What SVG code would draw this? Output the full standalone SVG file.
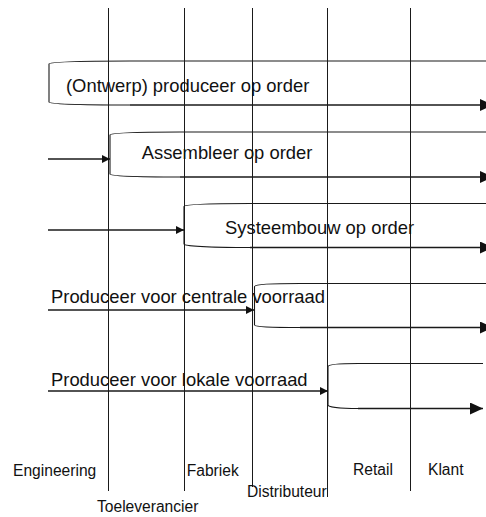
<svg xmlns="http://www.w3.org/2000/svg" width="486" height="517" viewBox="0 0 486 517">
  <style>
    .lane { stroke: #1a1a1a; stroke-width: 1; fill: none; }
    .bracket { stroke: #1a1a1a; stroke-width: 1.1; fill: none; }
    .flow { stroke: #1a1a1a; stroke-width: 1.3; fill: none; }
    .band { font-family: "Liberation Sans", Arial, sans-serif; font-size: 18.4px; fill: #111; }
    .lbl { font-family: "Liberation Sans", Arial, sans-serif; font-size: 15.6px; fill: #111; }
  </style>
  <defs>
    <marker id="bigHead" markerUnits="userSpaceOnUse" markerWidth="14" markerHeight="12" refX="13" refY="6" orient="auto">
      <path d="M0,0 L13,6 L0,12 Z" fill="#111"/>
    </marker>
    <marker id="smallHead" markerUnits="userSpaceOnUse" markerWidth="9" markerHeight="8" refX="8" refY="4" orient="auto">
      <path d="M0,0 L8,4 L0,8 Z" fill="#111"/>
    </marker>
  </defs>
  <rect width="486" height="517" fill="#fff"/>

  <!-- swimlane dividers -->
  <g id="lanes">
    <line class="lane" x1="108.5" y1="8" x2="108.5" y2="491"/>
    <line class="lane" x1="184.5" y1="8" x2="184.5" y2="491"/>
    <line class="lane" x1="252.5" y1="8" x2="252.5" y2="487"/>
    <line class="lane" x1="327.5" y1="8" x2="327.5" y2="497"/>
    <line class="lane" x1="410.5" y1="8" x2="410.5" y2="491"/>
  </g>

  <!-- lane labels -->
  <g id="lane-labels">
    <text class="lbl" x="13" y="476">Engineering</text>
    <text class="lbl" x="97" y="512">Toeleverancier</text>
    <text class="lbl" x="186.7" y="476">Fabriek</text>
    <text class="lbl" x="247" y="497">Distributeur</text>
    <text class="lbl" x="353" y="475">Retail</text>
    <text class="lbl" x="428" y="475">Klant</text>
  </g>

  <!-- order strategies: bracket, outgoing flow and caption -->
  <g id="band-ontwerp">
    <path class="bracket" d="M486,61 L130,61 C80,61 49,62 49,64 L49,102 C49,104 80,105 130,105"/>
    <text class="band" x="66" y="92">(Ontwerp) produceer op order</text>
  </g>
  <g id="band-assembleer">
    <path class="bracket" d="M486,132 L180,132 C135,132 110,133 110,135 L110,174 C110,176 135,177 180,177"/>
    <text class="band" x="141.7" y="159">Assembleer op order</text>
  </g>
  <g id="band-systeembouw">
    <path class="bracket" d="M486,203.5 L250,203.5 C210,203.5 184,204.5 184,206.5 L184,244 C184,246 210,247.5 250,247.5"/>
    <text class="band" x="225" y="234">Systeembouw op order</text>
  </g>
  <g id="band-centraal">
    <path class="bracket" d="M486,283.5 L300,283.5 C270,283.5 254.5,284.5 254.5,286.5 L254.5,325 C254.5,327 270,327.5 300,327.5"/>
    <text class="band" x="51" y="303">Produceer voor centrale voorraad</text>
  </g>
  <g id="band-lokaal">
    <path class="bracket" d="M483,363.5 L358,363.5 C340,363.5 328,364.5 328,366.5 L328,405 C328,407 340,408.5 358,408.5"/>
    <text class="band" x="51" y="386">Produceer voor lokale voorraad</text>
  </g>

  <!-- connectors -->
  <g id="connectors">
    <line class="flow" x1="130" y1="105" x2="493" y2="105" marker-end="url(#bigHead)"/>
    <line class="flow" x1="180" y1="177" x2="493" y2="177" marker-end="url(#bigHead)"/>
    <line class="flow" x1="250" y1="247.5" x2="493" y2="247.5" marker-end="url(#bigHead)"/>
    <line class="flow" x1="300" y1="327.5" x2="493" y2="327.5" marker-end="url(#bigHead)"/>
    <line class="flow" x1="358" y1="408.5" x2="483" y2="408.5" marker-end="url(#bigHead)"/>

    <line class="flow" x1="48" y1="159" x2="110" y2="159" marker-end="url(#smallHead)"/>
    <line class="flow" x1="48" y1="230" x2="184" y2="230" marker-end="url(#smallHead)"/>
    <line class="flow" x1="48" y1="310" x2="254" y2="310" marker-end="url(#smallHead)"/>
    <line class="flow" x1="48" y1="391" x2="328" y2="391" marker-end="url(#smallHead)"/>
  </g>
</svg>
